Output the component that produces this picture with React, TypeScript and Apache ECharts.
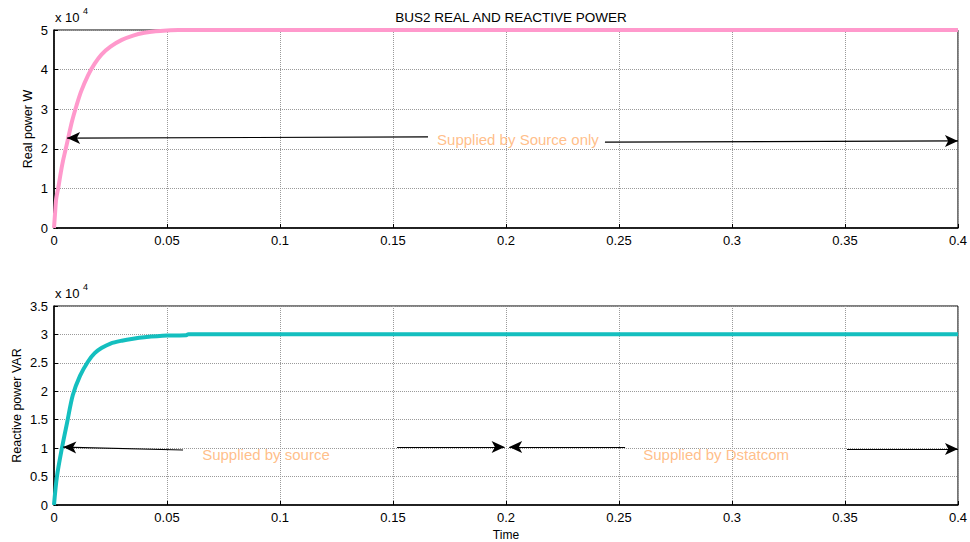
import React, { useEffect, useRef } from "react";
import * as echarts from "echarts";

// Real power (W)
const realT = [0, 0.0005, 0.001, 0.002, 0.003, 0.004, 0.005, 0.006, 0.008, 0.01, 0.012, 0.015, 0.018, 0.021, 0.025, 0.03, 0.035, 0.04, 0.045, 0.05, 0.055, 0.4];
const realP = [0, 4000, 7500, 10500, 14000, 17000, 19500, 22000, 27000, 31000, 34500, 38500, 41500, 43800, 45800, 47500, 48600, 49300, 49700, 49900, 50000, 50000];

// Reactive power (VAR)
const reacT = [0, 0.0013, 0.0035, 0.0058, 0.0083, 0.0115, 0.015, 0.018, 0.021, 0.025, 0.03, 0.035, 0.04, 0.05, 0.0585, 0.0595, 0.4];
const reacQ = [0, 5000, 10000, 14500, 19300, 22700, 25200, 26700, 27600, 28400, 28900, 29250, 29500, 29800, 29850, 30050, 30050];

// Annotation arrows: [tailT, tailV, tipT, tipV]
const realArrows = [
  [0.1655, 23000, 0.0058, 22700],
  [0.2438, 21700, 0.4, 22000],
];
const reacArrows = [
  [0.0571, 9670, 0.0041, 10190],
  [0.1518, 10190, 0.1994, 10190],
  [0.2527, 10190, 0.2014, 10190],
  [0.3509, 9840, 0.4, 9840],
];
const realNote = { t: 0.2053, v: 22300, text: "Supplied by Source only" };
const reacNotes = [
  { t: 0.0938, v: 8800, text: "Supplied by source" },
  { t: 0.293, v: 8800, text: "Supplied by Dstatcom" },
];

const FONT = "'Liberation Sans', Arial, sans-serif";
const fmtX = (v: number) => String(parseFloat(v.toFixed(2)));
const fmtY = (v: number) => String(parseFloat((v / 1e4).toFixed(2)));

function arrowLines(arr: number[][]) {
  return arr.map((a) => [
    { coord: [a[0], a[1]], symbol: "none" },
    { coord: [a[2], a[3]], symbol: "arrow", symbolSize: [9, 13] },
  ]);
}

export default function App() {
  const ref = useRef<HTMLDivElement>(null);
  useEffect(() => {
    const chart = echarts.init(ref.current!, null, { renderer: "svg" });
    const xBase = (gridIndex: number, showName: boolean) => ({
      type: "value",
      gridIndex,
      min: 0,
      max: 0.4,
      interval: 0.05,
      name: showName ? "Time" : "",
      nameLocation: "middle",
      nameGap: 24,
      nameMoveOverlap: false,
      nameTextStyle: { color: "#000", fontSize: 12, fontFamily: FONT },
      axisLine: { lineStyle: { color: "#000", width: 1.5 } },
      axisTick: { inside: true, length: 4, lineStyle: { color: "#000" } },
      axisLabel: { color: "#000", fontSize: 13, fontFamily: FONT, formatter: fmtX, margin: 6 },
      splitLine: { show: true, lineStyle: { color: "#9a9a9a", type: "dotted", width: 1 } },
    });
    const yBase = (gridIndex: number, max: number, interval: number, name: string, gap: number) => ({
      type: "value",
      gridIndex,
      min: 0,
      max,
      interval,
      name,
      nameLocation: "middle",
      nameGap: gap,
      nameMoveOverlap: false,
      nameTextStyle: { color: "#000", fontSize: 12.5, fontFamily: FONT },
      axisLine: { show: true, lineStyle: { color: "#000", width: 1.5 } },
      axisTick: { show: true, inside: true, length: 4, lineStyle: { color: "#000" } },
      axisLabel: { color: "#000", fontSize: 13, fontFamily: FONT, formatter: fmtY, margin: 6 },
      splitLine: { show: true, lineStyle: { color: "#9a9a9a", type: "dotted", width: 1 } },
    });
    const noteSeries = (xi: number, notes: { t: number; v: number; text: string }[]) => ({
      type: "scatter",
      xAxisIndex: xi,
      yAxisIndex: xi,
      symbolSize: 0,
      silent: true,
      data: notes.map((n) => ({ value: [n.t, n.v], name: n.text })),
      label: {
        show: true,
        position: "inside",
        formatter: (p: any) => p.name,
        color: "#ffae6b",
        fontSize: 15,
        fontFamily: FONT,
      },
    });
    const mlBase = {
      silent: true,
      animation: false,
      label: { show: false },
      lineStyle: { color: "#000", width: 1.2, type: "solid" },
      itemStyle: { color: "#000" },
    };
    chart.setOption({
      animation: false,
      backgroundColor: "#fff",
      title: {
        text: "BUS2 REAL AND REACTIVE POWER",
        left: 506,
        textAlign: "center",
        top: 5,
        textStyle: { fontSize: 13.5, fontWeight: "normal", color: "#000", fontFamily: FONT },
      },
      graphic: [
        { type: "text", left: 55, top: 11, style: { text: "x 10", fontSize: 13, fill: "#000", fontFamily: FONT } },
        { type: "text", left: 83, top: 6, style: { text: "4", fontSize: 9, fill: "#000", fontFamily: FONT } },
        { type: "text", left: 55, top: 287, style: { text: "x 10", fontSize: 13, fill: "#000", fontFamily: FONT } },
        { type: "text", left: 83, top: 282, style: { text: "4", fontSize: 9, fill: "#000", fontFamily: FONT } },
      ],
      grid: [
        { left: 54, right: 12, top: 30, height: 198, show: true, borderColor: "#000", borderWidth: 1, backgroundColor: "transparent" },
        { left: 54, right: 12, top: 306, height: 199, show: true, borderColor: "#000", borderWidth: 1, backgroundColor: "transparent" },
      ],
      xAxis: [xBase(0, false), xBase(1, true)],
      yAxis: [
        yBase(0, 50000, 10000, "Real power W", 20),
        yBase(1, 35000, 5000, "Reactive power VAR", 31),
      ],
      series: [
        {
          type: "line",
          xAxisIndex: 0,
          yAxisIndex: 0,
          data: realT.map((t, i) => [t, realP[i]]),
          showSymbol: false,
          smooth: 0.3,
          clip: false,
          lineStyle: { color: "#ff99cc", width: 4 },
          itemStyle: { color: "#ff99cc" },
          markLine: { ...mlBase, data: arrowLines(realArrows) },
        },
        {
          type: "line",
          xAxisIndex: 1,
          yAxisIndex: 1,
          data: reacT.map((t, i) => [t, reacQ[i]]),
          showSymbol: false,
          smooth: 0.3,
          clip: false,
          lineStyle: { color: "#14bfbf", width: 4 },
          itemStyle: { color: "#14bfbf" },
          markLine: { ...mlBase, data: arrowLines(reacArrows) },
        },
        noteSeries(0, [realNote]),
        noteSeries(1, reacNotes),
      ],
    });
    return () => chart.dispose();
  }, []);
  return <div ref={ref} style={{ width: 970, height: 542, position: "absolute", left: 0, top: 0 }} />;
}
